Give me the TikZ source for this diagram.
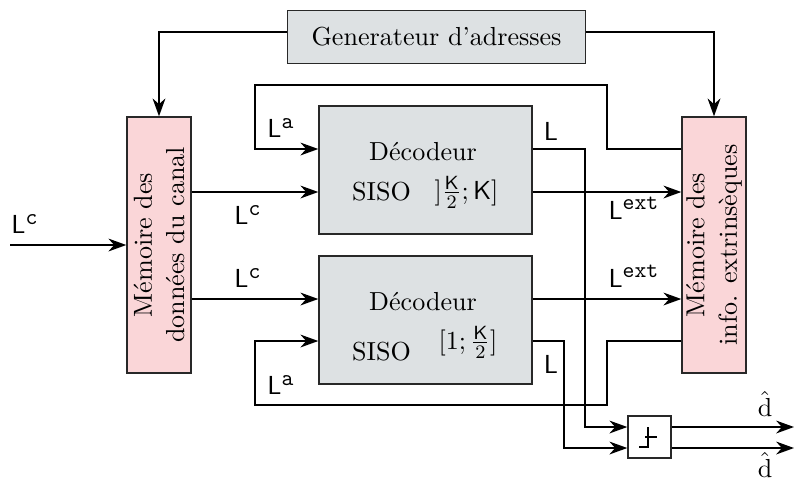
\documentclass[11pt,tikz,border=0pt]{standalone}
\usetikzlibrary{arrows.meta}
\definecolor{gbg}{RGB}{221,225,227}
\definecolor{pbg}{RGB}{250,214,216}
\definecolor{edge}{RGB}{40,40,40}
\newcommand{\supt}[1]{\hbox{\fontsize{9.5}{10}\selectfont\ttfamily #1}}
\begin{document}
\begin{tikzpicture}[x=0.42pt,y=-0.42pt,
  box/.style={draw=edge,line width=0.6pt,inner sep=0pt},
  gbox/.style={box,fill=gbg},
  pbox/.style={box,fill=pbg,rotate=90,align=center,minimum width=107.52pt,minimum height=26.88pt},
  dbox/.style={gbox,minimum width=89.46pt,minimum height=53.76pt},
  wire/.style={draw=black,line width=0.6pt},
  arr/.style={wire,-{Stealth[length=7.5pt,width=5.4pt,inset=2.4pt]}},
  lbl/.style={inner sep=0pt}]
\useasboundingbox (0,0) rectangle (794,480);
% boxes
\node[gbox,minimum width=125.16pt,minimum height=22.26pt] (gen) at (436.5,37) {Generateur d'adresses};
\node[pbox] (mem1) at (159,245) {Mémoire des\\données du canal};
\node[pbox] (mem2) at (714,245) {Mémoire des\\info. extrinsèques};
\node[dbox] (dec1) at (425.5,170) {};
\node[dbox] (dec2) at (425.5,320) {};
\node[box,fill=white,minimum width=18.06pt,minimum height=17.64pt] (thr) at (649.5,437) {};
% decoder texts
\node[lbl] (t1a) at (423,152) {Décodeur};
\node[lbl] (t1b) at (381.5,192) {SISO};
\node[lbl] (t1c) at (466.5,192) {$]\frac{\mathsf{K}}{2};\mathsf{K}]$};
\node[lbl] (t2a) at (423,302) {Décodeur};
\node[lbl] (t2b) at (381.5,352) {SISO};
\node[lbl] (t2c) at (468,342) {$[1;\frac{\mathsf{K}}{2}]$};
% step symbol
\draw[line width=0.6pt] ([shift={(-10.5,10)}]thr.center) -- ([shift={(-1.5,10)}]thr.center) -- ([shift={(-1.5,-10.5)}]thr.center);
\draw[line width=0.6pt] ([shift={(-4.5,0)}]thr.center) -- ([shift={(7.5,0)}]thr.center);
% helper coordinates
\coordinate (ygen) at (0,32);
\coordinate (yA) at (0,149);
\coordinate (yC) at (0,192);
\coordinate (yC2) at (0,299);
\coordinate (yA2) at (0,341);
\coordinate (yin) at (0,245);
\coordinate (yT1) at (0,427);
\coordinate (yT2) at (0,448);
\coordinate (fbT1) at (607,85);
\coordinate (fbT2) at (255,85);
\coordinate (fbB1) at (607,405);
\coordinate (fbB2) at (255,405);
\coordinate (xL1) at (585,0);
\coordinate (xL2) at (564,0);
\coordinate (inp) at (10,245);
\coordinate (out1) at (794,427);
\coordinate (out2) at (794,448);
% connectors
\draw[arr] (gen.west |- ygen) -| (mem1.east);
\draw[arr] (gen.east |- ygen) -| (mem2.east);
\draw[arr] (inp) -- (mem1.north |- yin);
\draw[arr] (mem1.south |- yC) -- (dec1.west |- yC);
\draw[arr] (mem1.south |- yC2) -- (dec2.west |- yC2);
\draw[arr] (dec1.east |- yC) -- (mem2.north |- yC);
\draw[arr] (dec2.east |- yC2) -- (mem2.north |- yC2);
\draw[arr] (mem2.north |- yA) -| (fbT1) -- (fbT2) |- (dec1.west |- yA);
\draw[arr] (mem2.north |- yA2) -| (fbB1) -- (fbB2) |- (dec2.west |- yA2);
\draw[arr] (dec1.east |- yA) -| (xL1 |- yT1) -- (thr.west |- yT1);
\draw[arr] (dec2.east |- yA2) -| (xL2 |- yT2) -- (thr.west |- yT2);
\draw[arr] (thr.east |- yT1) -- (out1);
\draw[arr] (thr.east |- yT2) -- (out2);
% labels
\node[lbl] (lcin) at (25,224) {$\mathsf{L}^{\supt{c}}$};
\node[lbl] (lc1) at (248,215) {$\mathsf{L}^{\supt{c}}$};
\node[lbl] (lc2) at (248,278) {$\mathsf{L}^{\supt{c}}$};
\node[lbl] (la1) at (281,128) {$\mathsf{L}^{\supt{a}}$};
\node[lbl] (la2) at (281,385) {$\mathsf{L}^{\supt{a}}$};
\node[lbl] (l1) at (551,131) {$\mathsf{L}$};
\node[lbl] (l2) at (551,364) {$\mathsf{L}$};
\node[lbl] (le1) at (634,208) {$\mathsf{L}^{\supt{ext}}$};
\node[lbl] (le2) at (634,276) {$\mathsf{L}^{\supt{ext}}$};
\node[lbl] (d1) at (765,404) {$\hat{\mathrm{d}}$};
\node[lbl] (d2) at (765,465) {$\hat{\mathrm{d}}$};
\end{tikzpicture}
\end{document}
